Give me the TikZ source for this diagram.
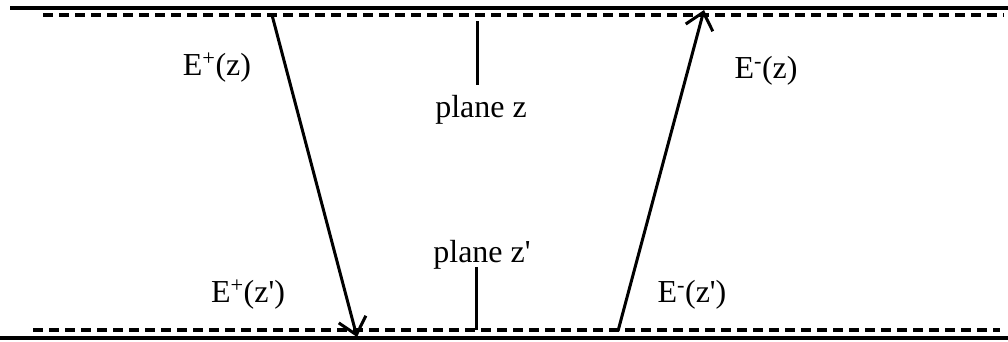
\documentclass[tikz,border=0pt]{standalone}
\usepackage{fontspec}
\setmainfont{Liberation Serif}[Ligatures=TeXOff]
\usetikzlibrary{arrows.meta}
\begin{document}
\begin{tikzpicture}[x=1pt,y=-1pt,
  solidline/.style={line width=3.6pt},
  dashline/.style={line width=3.2pt,dash pattern=on 10pt off 6pt},
  ray/.style={line width=3pt,-{Straight Barb[length=16pt,width=28pt,line width=3pt]}},
  tick/.style={line width=3pt},
  lbl/.style={font=\fontsize{32}{36}\selectfont,inner sep=0pt,anchor=base}]
\useasboundingbox (0,0) rectangle (1008,341);
% boundary lines
\coordinate (tl) at (10,8);
\coordinate (tr) at (1008,8);
\coordinate (tdl) at (43,15);
\coordinate (tdr) at (1004,15);
\coordinate (bdl) at (33,330);
\coordinate (bdr) at (1000,330);
\coordinate (bl) at (0,338);
\coordinate (br) at (1008,338);
\draw[solidline] (tl) -- (tr);
\draw[dashline] (tdl) -- (tdr);
\draw[dashline] (bdl) -- (bdr);
\draw[solidline] (bl) -- (br);
% rays
\coordinate (p1) at (272,15);
\coordinate (p2) at (357,337);
\coordinate (m1) at (618,331);
\coordinate (m2) at (704,10);
\draw[ray] (p1) -- (p2);
\draw[ray] (m1) -- (m2);
% plane ticks
\coordinate (zt1) at (477,21);
\coordinate (zt2) at (477,85);
\coordinate (zb1) at (476,267);
\coordinate (zb2) at (476,330);
\draw[tick] (zt1) -- (zt2);
\draw[tick] (zb1) -- (zb2);
% labels
\node[lbl] (ep) at (217,75) {E\textsuperscript{+}(z)};
\node[lbl] (em) at (766,78) {E\textsuperscript{-}(z)};
\node[lbl] (pz) at (481,117) {plane z};
\node[lbl] (pzp) at (482,262) {plane z'};
\node[lbl] (epp) at (248,302) {E\textsuperscript{+}(z')};
\node[lbl] (emp) at (692,302) {E\textsuperscript{-}(z')};
\end{tikzpicture}
\end{document}
